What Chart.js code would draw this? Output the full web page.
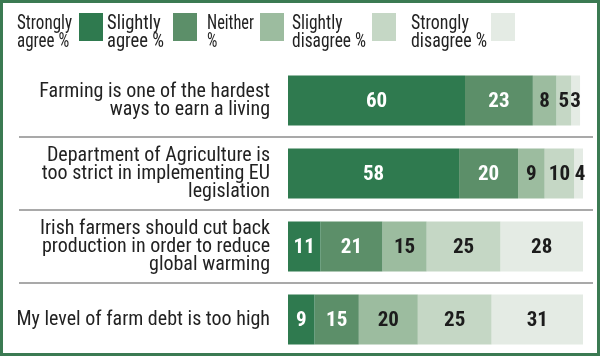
<!DOCTYPE html>
<html>
<head>
<meta charset="utf-8">
<script src="https://cdn.jsdelivr.net/npm/chart.js@4.4.1/dist/chart.umd.min.js"></script>
<style>
  html, body { margin: 0; padding: 0; background: #ffffff; }
  #wrap { width: 600px; height: 356px; position: relative; }
</style>
</head>
<body>
<div id="wrap"><canvas id="c" width="600" height="356"></canvas></div>
<script>
// ---- data ----
const categories = [
  ["Farming is one of the hardest", "ways to earn a living"],
  ["Department of Agriculture is", "too strict in implementing EU", "legislation"],
  ["Irish farmers should cut back", "production in order to reduce", "global warming"],
  "My level of farm debt is too high"
];
const seriesNames = [
  ["Strongly", "agree %"],
  ["Slightly", "agree %"],
  ["Neither", "%"],
  ["Slightly", "disagree %"],
  ["Strongly", "disagree %"]
];
const stronglyAgree    = [60, 58, 11, 9];
const slightlyAgree    = [23, 20, 21, 15];
const neither          = [8, 9, 15, 20];
const slightlyDisagree = [5, 10, 25, 25];
const stronglyDisagree = [3, 4, 28, 31];

const seriesColors = ["#2f7a4f", "#5c8f69", "#9cbc9f", "#c5d7c5", "#e4ebe4"];
const valueColors  = ["#ffffff", "#ffffff", "#1c1c1c", "#1c1c1c", "#1c1c1c"];
const FONT = "'Roboto Condensed', 'DejaVu Sans Condensed', sans-serif";

const seriesValues = [stronglyAgree, slightlyAgree, neither, slightlyDisagree, stronglyDisagree];

const datasets = seriesValues.map((vals, i) => ({
  label: seriesNames[i].join(" "),
  data: vals,
  backgroundColor: seriesColors[i],
  borderWidth: 0,
  barPercentage: 1,
  categoryPercentage: 0.685
}));

// background + frame
const framePlugin = {
  id: 'frame',
  beforeDraw(chart) {
    const ctx = chart.ctx;
    ctx.save();
    ctx.fillStyle = '#ffffff';
    ctx.fillRect(0, 0, chart.width, chart.height);
    ctx.restore();
  },
  afterDraw(chart) {
    const ctx = chart.ctx;
    ctx.save();
    ctx.strokeStyle = '#3b7a52';
    ctx.lineWidth = 3;
    ctx.strokeRect(1.5, 1.5, chart.width - 3, chart.height - 3);
    ctx.restore();
  }
};

// separators between categories
const separatorPlugin = {
  id: 'separators',
  beforeDatasetsDraw(chart) {
    const y = chart.scales.y;
    const ctx = chart.ctx;
    ctx.save();
    ctx.strokeStyle = '#8c8c8c';
    ctx.lineWidth = 1.5;
    for (let i = 0; i < categories.length - 1; i++) {
      const yy = (y.getPixelForValue(i) + y.getPixelForValue(i + 1)) / 2;
      ctx.beginPath();
      ctx.moveTo(19, yy);
      ctx.lineTo(593, yy);
      ctx.stroke();
    }
    ctx.restore();
  }
};

// value labels in segments
const valuePlugin = {
  id: 'values',
  afterDatasetsDraw(chart) {
    const ctx = chart.ctx;
    ctx.save();
    ctx.font = "bold 21px " + FONT;
    ctx.textAlign = 'center';
    ctx.textBaseline = 'middle';
    chart.data.datasets.forEach((ds, di) => {
      const meta = chart.getDatasetMeta(di);
      ctx.fillStyle = valueColors[di];
      meta.data.forEach((bar, i) => {
        const cx = (bar.x + bar.base) / 2;
        ctx.fillText(String(ds.data[i]), cx, bar.y + 1);
      });
    });
    ctx.restore();
  }
};

// legend: text then swatch (fixed column layout)
const legendPlugin = {
  id: 'customLegend',
  afterDraw(chart) {
    const ctx = chart.ctx;
    const textX  = [17, 107, 207, 292, 411];
    const textW  = [55, 57, 47, 74, 76];
    const swatchX = [79, 173, 260, 372, 491];
    ctx.save();
    ctx.font = "20px " + FONT;
    ctx.textBaseline = 'alphabetic';
    ctx.textAlign = 'left';
    seriesNames.forEach((lines, i) => {
      const w = Math.max(...lines.map(l => ctx.measureText(l).width));
      const k = Math.min(1, textW[i] / w);
      ctx.save();
      ctx.translate(textX[i], 0);
      ctx.scale(k, 1);
      ctx.fillStyle = '#222222';
      lines.forEach((l, li) => ctx.fillText(l, 0, 29 + li * 18));
      ctx.restore();
      ctx.fillStyle = seriesColors[i];
      ctx.fillRect(swatchX[i], 13, 24, 28);
    });
    ctx.restore();
  }
};

new Chart(document.getElementById('c'), {
  type: 'bar',
  data: { labels: categories, datasets },
  options: {
    indexAxis: 'y',
    responsive: false,
    animation: false,
    events: [],
    layout: { padding: { top: 64, right: 17, bottom: 0, left: 0 } },
    plugins: { legend: { display: false }, tooltip: { enabled: false } },
    scales: {
      x: { stacked: true, min: 0, max: 100, display: false },
      y: {
        stacked: true,
        grid: { display: false, drawTicks: false },
        border: { display: false },
        afterFit(s) { s.width = 288; s.paddingTop = 0; s.paddingBottom = 0; },
        ticks: {
          crossAlign: 'near',
          padding: 18,
          color: '#222222',
          font: { family: FONT, size: 20, lineHeight: '18px' }
        }
      }
    }
  },
  plugins: [framePlugin, separatorPlugin, valuePlugin, legendPlugin]
});
</script>
</body>
</html>
